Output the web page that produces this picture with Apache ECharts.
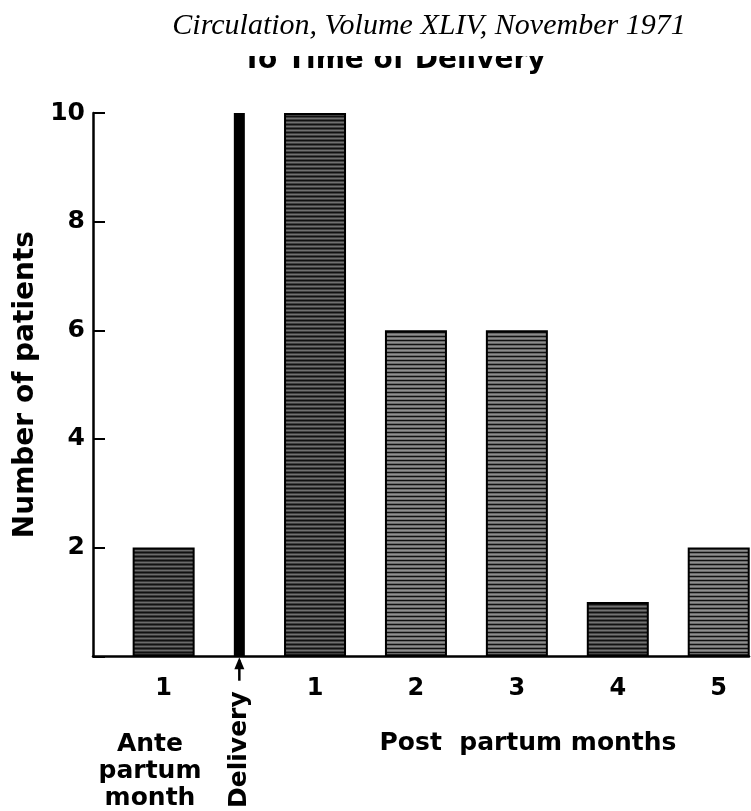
<!DOCTYPE html>
<html><head><meta charset="utf-8">
<script src="https://cdn.jsdelivr.net/npm/echarts@6/dist/echarts.min.js"></script>
<style>html,body{margin:0;padding:0;background:#fff}#c{width:751px;height:811px}</style>
</head><body><div id="c"></div>
<script>
// ---- data ----
const monthLabels = ['1', '1', '2', '3', '4', '5'];
const monthPositions = [-0.5, 1, 2, 3, 4, 5];
const patientCounts = [2, 10, 6, 6, 1, 2];
const deliveryPositions = [0.25];
const deliveryCounts = [10];
const yTickValues = [0, 2, 4, 6, 8, 10];
const titleLine = 'Circulation, Volume XLIV, November 1971';
const subtitleLine = 'To Time of Delivery';
const yAxisTitle = 'Number of patients';
const antePartumTitle = 'Ante\npartum\nmonth';
const postPartumTitle = 'Post  partum months';
const deliveryTitle = 'Delivery';

// ---- styles ----
const shadeBg = ['#3a3a3a', '#404040', '#6a6a6a', '#666666', '#454545', '#6a6a6a'];
function hatch(bg) {
  const c = document.createElement('canvas');
  c.width = 8; c.height = 4;
  const g = c.getContext('2d');
  g.fillStyle = bg; g.fillRect(0, 0, 8, 4);
  g.fillStyle = '#111'; g.fillRect(0, 0, 8, 1);
  g.fillStyle = 'rgba(255,255,255,0.25)'; g.fillRect(0, 2, 8, 1);
  return { image: c, repeat: 'repeat' };
}
const FONT = '"DejaVu Sans", sans-serif';

const labelMap = {};
monthPositions.forEach((p, i) => { labelMap[p] = monthLabels[i]; });

const barData = monthPositions.map((p, i) => ({
  value: [p, patientCounts[i]],
  itemStyle: { color: hatch(shadeBg[i]) }
}));

const chart = echarts.init(document.getElementById('c'), null, { renderer: 'canvas' });
const baseGraphics = [
  { type: 'text', x: 394, y: 75, z: 1,
    style: { text: subtitleLine, font: 'bold 28px ' + FONT, fill: '#000',
             textAlign: 'center', textVerticalAlign: 'bottom' } },
  { type: 'rect', shape: { x: 0, y: 0, width: 751, height: 56 }, z: 2,
    style: { fill: '#fff' } },
  { type: 'text', x: 429, y: 26, z: 3,
    style: { text: titleLine, font: 'italic 30px "Liberation Serif", serif', fill: '#000',
             textAlign: 'center', textVerticalAlign: 'middle' } },
  { type: 'text', x: 150, y: 731, z: 3,
    style: { text: antePartumTitle, font: 'bold 25px ' + FONT, fill: '#000', lineHeight: 27,
             textAlign: 'center', textVerticalAlign: 'top' } },
  { type: 'text', x: 528, y: 731, z: 3,
    style: { text: postPartumTitle, font: 'bold 25px ' + FONT, fill: '#000',
             textAlign: 'center', textVerticalAlign: 'top' } }
];
chart.setOption({
  animation: false,
  backgroundColor: '#fff',
  grid: { left: 93, right: 2, top: 113, bottom: 153, containLabel: false },
  xAxis: [{
    type: 'value', min: -1.2, max: 5.3,
    splitLine: { show: false },
    axisLine: { show: true, onZero: false, lineStyle: { color: '#000', width: 2.5 } },
    axisTick: { show: false },
    axisLabel: {
      customValues: monthPositions,
      formatter: v => labelMap[v] !== undefined ? labelMap[v] : '',
      color: '#000', fontSize: 24, fontWeight: 'bold', fontFamily: FONT, margin: 20
    }
  }, {
    type: 'value', min: -1.2, max: 5.3, position: 'bottom',
    splitLine: { show: false },
    axisLine: { show: false, onZero: false }, axisTick: { show: false },
    axisLabel: {
      customValues: deliveryPositions,
      formatter: () => deliveryTitle,
      rotate: 90, color: '#000', fontSize: 25, fontWeight: 'bold', fontFamily: FONT, margin: 35
    }
  }],
  yAxis: {
    type: 'value', min: 0, max: 10, interval: 2,
    name: yAxisTitle, nameLocation: 'middle', nameRotate: 90, nameGap: 45,
    nameTextStyle: { color: '#000', fontSize: 28, fontFamily: FONT, fontWeight: 'bold' },
    splitLine: { show: false },
    axisLine: { show: true, onZero: false, lineStyle: { color: '#000', width: 2.5 } },
    axisTick: { show: true, inside: true, length: 12, lineStyle: { color: '#000', width: 2 } },
    axisLabel: {
      customValues: yTickValues.filter(v => v !== 0),
      color: '#000', fontSize: 25, fontWeight: 'bold', fontFamily: FONT, margin: 8
    }
  },
  series: [{
    type: 'bar', xAxisIndex: 0, clip: false,
    barWidth: 62,
    itemStyle: { borderColor: '#000', borderWidth: 2 },
    data: barData
  }, {
    type: 'bar', xAxisIndex: 1, clip: false,
    barWidth: 11,
    itemStyle: { color: '#000' },
    data: deliveryPositions.map((p, i) => [p, deliveryCounts[i]])
  }],
  graphic: baseGraphics
});

// Delivery arrow, placed through the chart's own scales
const tip = chart.convertToPixel({ xAxisIndex: 1, yAxisIndex: 0 }, [deliveryPositions[0], 0]);
const tail = chart.convertToPixel({ xAxisIndex: 1, yAxisIndex: 0 }, [deliveryPositions[0], -0.45]);
chart.setOption({
  graphic: baseGraphics.concat([
    { type: 'line', z: 3, shape: { x1: tail[0], y1: tail[1], x2: tip[0], y2: tip[1] + 4 },
      style: { stroke: '#000', lineWidth: 2.5 } },
    { type: 'polygon', z: 3,
      shape: { points: [[tip[0], tip[1] + 1], [tip[0] - 5, tip[1] + 13], [tip[0] + 5, tip[1] + 13]] },
      style: { fill: '#000' } }
  ])
}, { replaceMerge: ['graphic'] });
</script></body></html>
